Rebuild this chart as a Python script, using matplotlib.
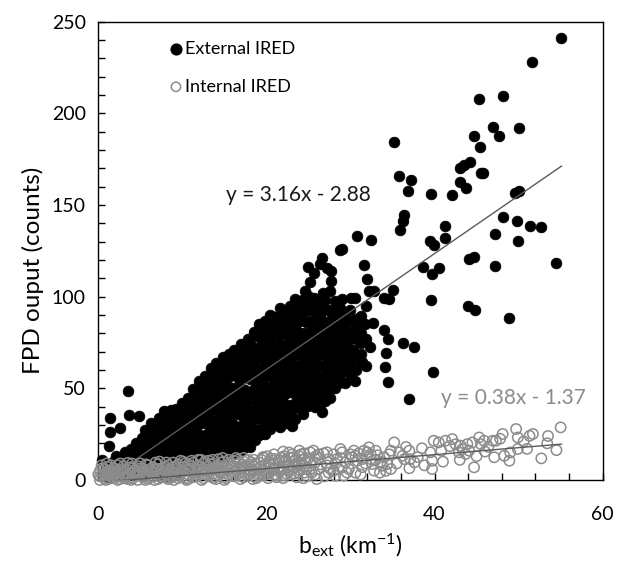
import matplotlib
matplotlib.use("Agg")
import matplotlib.pyplot as plt
import numpy as np
from matplotlib.ticker import MultipleLocator

plt.rcParams['font.family'] = ['Lato', 'DejaVu Sans']
plt.rcParams['mathtext.default'] = 'regular'

# ---------------- External IRED (black, filled) ----------------
ext_pts = [
    (0.4, 11), (0.6, 4), (0.9, 8), (1.1, 1.5), (1.3, 18.7), (1.4, 26.3), (1.4, 33.6), (1.6, 5),
    (1.8, 10), (2.1, 13), (2.3, 2), (2.6, 28.2), (2.5, 7), (2.9, 11), (3.2, 15), (3.1, 3),
    (3.5, 48.6), (3.6, 8), (3.7, 35.4), (3.9, 17), (4.2, 12), (4.3, 4), (4.5, 20), (4.9, 34.7),
    (4.8, 9), (5.0, 15), (5.2, 23), (5.3, 3), (5.6, 27), (5.7, 11), (5.9, 18), (6.1, 6),
    (6.3, 31), (6.4, 23), (6.5, 14), (6.8, 9), (6.9, 27), (7.0, 19), (7.2, 34), (7.3, 3),
    (7.5, 13), (7.7, 24), (7.8, 37.7), (7.9, 30), (8.1, 17), (8.3, 7), (8.5, 35), (8.6, 21),
    (8.8, 27), (8.9, 12), (9.2, 38.7), (9.3, 31), (9.4, 17), (9.6, 24), (9.7, 8), (10.0, 42),
    (10.1, 35), (10.2, 20), (10.3, 28), (10.5, 13), (10.7, 45), (10.8, 38), (10.9, 24), (11.0, 31),
    (11.1, 17), (11.3, 49.6), (11.4, 42), (11.5, 9), (11.6, 28), (11.7, 35), (11.8, 21), (12.0, 54),
    (12.1, 46), (12.1, 20.5), (12.3, 31), (12.4, 39), (12.5, 14), (12.7, 57), (12.8, 50), (12.9, 25),
    (13.0, 43), (13.1, 35), (13.2, 18), (13.4, 61), (13.5, 53), (13.6, 29), (13.7, 18.7), (13.7, 46),
    (13.9, 38), (14.0, 64), (14.1, 24), (14.2, 57), (14.3, 50), (14.5, 33), (14.6, 42), (14.7, 16),
    (14.8, 67), (14.9, 60), (15.0, 27), (15.1, 13.2), (15.1, 53), (15.2, 37), (15.3, 46), (15.5, 68.6),
    (15.6, 21), (15.7, 57), (15.8, 31), (15.9, 41), (16.0, 50), (16.1, 63), (16.2, 71), (16.3, 17),
    (16.4, 27), (16.5, 36), (16.6, 45), (16.7, 55), (16.8, 66), (17.0, 74), (17.1, 16.5), (17.1, 24),
    (17.2, 60), (17.3, 33), (17.4, 49), (17.5, 40), (17.6, 70), (17.8, 77), (17.9, 22), (18.0, 55),
    (18.0, 30), (18.1, 44), (18.2, 64), (18.3, 37), (18.5, 81), (18.6, 27), (18.6, 50), (18.7, 72),
    (18.8, 59), (18.9, 42), (19.1, 24.5), (19.1, 85), (19.2, 34), (19.3, 67), (19.4, 77), (19.5, 54),
    (19.6, 46), (19.8, 29), (19.8, 62), (19.9, 84), (20.0, 39), (20.1, 72), (20.2, 51), (20.4, 90),
    (20.5, 33), (20.6, 60), (20.7, 79), (20.8, 45), (20.9, 67), (21.1, 56), (21.2, 86), (21.3, 37),
    (21.4, 34), (21.5, 74), (21.6, 50), (21.7, 63), (21.8, 91), (22.0, 42), (22.1, 82), (22.2, 88.6),
    (22.3, 31), (22.3, 57), (22.4, 70), (22.6, 48), (22.7, 77), (22.8, 93), (23.0, 29.6), (23.0, 38),
    (23.1, 64), (23.2, 86), (23.3, 54), (23.4, 72), (23.5, 96.8), (23.6, 44), (23.7, 81), (23.8, 60),
    (24.0, 90), (24.1, 50), (24.2, 68), (24.3, 36), (24.4, 77), (24.5, 99), (24.6, 56), (24.7, 86),
    (24.9, 116.4), (24.9, 40.5), (24.9, 100.4), (25.0, 64), (25.1, 47), (25.2, 73), (25.3, 93), (25.4, 82),
    (25.5, 57), (25.7, 99.5), (25.7, 113), (25.8, 44), (25.9, 69), (26.0, 89), (26.1, 78), (26.2, 52),
    (26.4, 62), (26.6, 37.2), (26.6, 121.3), (26.7, 101.9), (26.7, 84), (26.8, 47), (26.9, 72), (27.0, 93),
    (27.1, 58), (27.2, 115.8), (27.3, 80), (27.5, 66), (27.6, 50), (27.7, 108.6), (27.7, 114), (27.8, 88.6),
    (27.9, 74), (28.0, 58.7), (28.2, 97.7), (28.3, 83), (28.4, 65), (28.5, 53), (28.8, 125.4), (28.8, 76.8),
    (28.9, 53.2), (29.0, 98.6), (29.1, 70), (29.2, 84.0), (29.4, 62), (29.5, 61.4), (29.6, 74), (29.8, 77),
    (29.9, 67), (30.1, 99.1), (30.2, 87), (30.3, 71), (30.5, 54.1), (30.6, 83.2), (30.6, 66), (30.8, 133.1),
    (31.0, 88.6), (31.2, 89.5), (31.4, 64.1), (31.6, 117.1), (31.7, 85), (32.0, 109.5), (32.2, 103.1),
    (32.3, 72.3), (32.4, 130.9), (32.7, 85.5), (32.8, 103.1), (29.0, 125.8), (30.5, 99.5),
    (35.0, 103.7), (34.0, 99.5), (34.6, 98.6), (39.6, 98.2), (44.0, 94.9), (44.8, 92.6), (48.9, 88.2),
    (34.0, 81.7), (34.5, 76.8), (36.3, 75.0), (37.6, 72.3), (34.2, 69.2), (34.1, 61.7), (39.8, 59.0),
    (34.5, 53.6), (37.0, 44.1), (38.6, 116.4), (39.7, 112.2), (40.5, 115.5), (44.1, 120.7), (44.7, 121.8),
    (47.2, 116.7), (54.5, 118.2), (55.1, 241.1), (51.6, 227.8), (45.3, 208.0), (48.2, 209.3), (35.2, 184.3),
    (46.9, 192.4), (47.7, 187.5), (50.0, 192.1), (44.7, 187.5), (45.4, 181.7), (44.2, 173.6), (43.5, 172.1),
    (43.0, 170.1), (45.5, 167.6), (45.8, 167.2), (35.8, 166.1), (37.2, 163.9), (36.8, 157.9), (43.0, 162.5),
    (43.7, 159.4), (39.6, 156.2), (42.1, 155.2), (49.6, 156.7), (50.1, 157.9), (36.4, 144.3), (36.2, 141.2),
    (35.9, 136.3), (48.2, 143.6), (49.8, 141.1), (51.4, 138.5), (52.7, 138.2), (41.2, 138.5), (41.2, 131.8),
    (39.4, 130.3), (39.9, 128.2), (47.2, 134.0), (49.9, 130.3),
]

# second layer of the dense External cloud, read column by column (x, [y...])
ext_fill = [
    (5.4, [6, 13, 20]), (6.0, [10, 16, 25]), (6.7, [5, 12, 17, 21, 29]),
    (7.4, [6, 10, 16, 22, 27, 31]), (8.0, [2, 9, 14, 20, 25, 33]),
    (8.7, [4, 10, 15, 18, 24, 30, 32, 38]), (9.4, [3, 11, 14, 21, 27, 35]),
    (10.0, [5, 10, 16, 23, 32, 38]), (10.6, [7, 11, 19, 26, 34, 41]),
    (11.2, [6, 13, 20, 26, 38, 45]), (11.9, [10, 17, 25, 33, 40, 49]),
    (12.5, [11, 19, 24, 36, 44, 52]), (13.2, [12, 22, 30, 40, 48, 56]),
    (13.8, [14, 21, 32, 42, 51, 58]), (14.4, [13, 20, 28, 38, 45, 54, 62]),
    (15.0, [17, 23, 31, 41, 49, 57, 65]), (15.6, [18, 25, 35, 43, 51, 61, 66]),
    (16.2, [14, 22, 30, 40, 47, 58, 68]), (16.8, [19, 29, 39, 51, 59, 63, 71]),
    (17.4, [20, 28, 37, 44, 56, 64, 73]), (18.0, [18, 25, 34, 48, 60, 68, 75]),
    (18.6, [22, 33, 39, 46, 55, 63, 69, 79]), (19.2, [28, 37, 41, 49, 60, 71, 81]),
    (19.8, [25, 33, 44, 50, 57, 68, 75, 80, 87]), (20.4, [28, 37, 42, 48, 57, 64, 70, 76, 84]),
    (21.0, [31, 40, 48, 53, 63, 71, 82, 89]), (21.6, [29, 38, 44, 55, 60, 68, 79, 85, 94]),
    (22.2, [35, 41, 47, 53, 60, 66, 73, 85, 91]), (22.8, [33, 41, 51, 58, 63, 69, 75, 82, 89, 95]),
    (23.4, [33, 40, 47, 51, 58, 68, 77, 83, 91, 99]), (24.0, [39, 46, 54, 63, 74, 80, 87, 95]),
    (24.6, [42, 48, 53, 60, 66, 71, 80, 92, 103]), (25.2, [43, 51, 60, 67, 77, 87, 97, 108]),
    (25.8, [40, 49, 55, 61, 66, 73, 85, 94]), (26.4, [41, 47, 56, 68, 75, 80, 89, 97, 118]),
    (27.0, [43, 52, 63, 69, 77, 86, 98]), (27.6, [45, 55, 60, 69, 77, 83, 93, 103]),
    (28.2, [50, 56, 62, 70, 78, 88, 92]), (28.8, [58, 66, 73, 80, 89, 94]),
    (29.4, [53, 67, 79, 87, 91]), (30.0, [58, 63, 71, 81, 93]), (30.6, [60, 77, 88]),
    (31.2, [69, 75, 80]), (31.8, [62, 77, 95]),
]

# ---------------- Internal IRED (grey, open) ----------------
int_pts = [
    (0.2, 0), (0.2, 2), (0.2, 5), (0.4, 8), (0.7, 1), (0.7, 3.5), (0.7, 6), (1.0, 9), (1.2, 0.5),
    (1.2, 2.5), (1.2, 5), (1.2, 7), (1.5, 3), (1.8, 1), (1.8, 4), (1.8, 6.5), (2.0, 6), (2.3, 0),
    (2.3, 2), (2.3, 5), (2.3, 8), (2.6, 9), (2.9, 1.5), (2.9, 3.5), (2.9, 6), (3.2, 1), (3.5, 0.5),
    (3.5, 3), (3.5, 5.5), (3.5, 9.3), (3.8, 7), (4.1, 1), (4.1, 4), (4.1, 6.5), (4.4, 3), (4.7, 0),
    (4.7, 2.5), (4.7, 5), (4.7, 7.5), (5.0, 9), (5.3, 1.5), (5.3, 4), (5.3, 6), (5.6, 2), (5.9, 0.5),
    (5.9, 3), (5.9, 5.5), (5.9, 8), (6.2, 6), (6.5, 2), (6.5, 4.5), (6.5, 7), (6.8, 9.5), (7.1, 0.5),
    (7.1, 3), (7.1, 6), (7.1, 8.5), (7.4, 1.5), (7.7, 1.5), (7.7, 4), (7.7, 6.5), (8.0, 7), (8.3, 0.5),
    (8.3, 3), (8.3, 5.5), (8.3, 8), (8.6, 2), (8.9, 2), (8.9, 4.5), (8.9, 7), (8.9, 9.5), (9.2, 6),
    (9.5, 1), (9.5, 3.5), (9.5, 6), (9.5, 8.5), (9.8, 10.5), (10.1, 2), (10.1, 4.5), (10.1, 7),
    (10.1, 10), (10.4, 1), (10.7, 0.5), (10.7, 3), (10.7, 5.5), (10.7, 8.5), (11.0, 7.5), (11.3, 1.5),
    (11.3, 4), (11.3, 6.5), (11.3, 9.5), (11.6, 3), (11.9, 2.5), (11.9, 5), (11.9, 8), (11.9, 11),
    (12.2, 11), (12.5, 1), (12.5, 3.5), (12.5, 6), (12.5, 9), (12.8, 5), (13.1, 2), (13.1, 5),
    (13.1, 7.5), (13.1, 10.5), (13.4, 8.5), (13.7, 1), (13.7, 3.5), (13.7, 6.5), (13.7, 9), (14.0, 0.5),
    (14.3, 2.5), (14.3, 5), (14.3, 8), (14.3, 11.4), (14.6, 9.5), (14.9, 1.5), (14.9, 4), (14.9, 7),
    (14.9, 10), (15.2, 1), (15.5, 3), (15.5, 5.5), (15.5, 8.5), (15.5, 11), (15.8, 7), (16.1, 2),
    (16.1, 4.5), (16.1, 7.5), (16.1, 10.5), (16.4, 12), (16.7, 3.5), (16.7, 6), (16.7, 9), (17.0, 2),
    (17.3, 1.5), (17.3, 4.5), (17.3, 7), (17.3, 10), (17.3, 12), (17.6, 6), (17.9, 3), (17.9, 5.5),
    (17.9, 8.5), (18.2, 9.5), (18.5, 2), (18.5, 5), (18.5, 7.5), (18.5, 11), (18.8, 1), (19.1, 3.5),
    (19.1, 6), (19.1, 9.5), (19.4, 11), (19.7, 2.5), (19.7, 5), (19.7, 8), (19.7, 12), (20.0, 3),
    (20.1, 13), (20.3, 4), (20.3, 6.5), (20.3, 10), (20.6, 8), (20.9, 3), (20.9, 5.5), (20.9, 9),
    (20.9, 14), (21.0, 11.5), (21.2, 1.5), (21.5, 4.5), (21.5, 7), (21.5, 11), (21.8, 12), (22.0, 15.5),
    (22.1, 2.5), (22.1, 6), (22.1, 9.5), (22.1, 13), (22.4, 3.5), (22.7, 5), (22.7, 8), (22.7, 12),
    (22.7, 15), (23.0, 6), (23.1, 14), (23.3, 3.5), (23.3, 7), (23.3, 10.5), (23.6, 1.5), (23.9, 5.5),
    (23.9, 9), (23.9, 13), (23.9, 16), (24.2, 9), (24.5, 4), (24.5, 7.5), (24.5, 11.5), (24.5, 14.5),
    (24.8, 2), (25.2, 15.1), (25.2, 6), (25.2, 9.6), (25.6, 16), (25.8, 9.6), (25.8, 3), (26.0, 0.5),
    (26.2, 6), (26.2, 12), (26.2, 14), (26.8, 14.5), (27.2, 15.1), (27.2, 8), (27.4, 11.4), (27.4, 4),
    (28.0, 5.1), (28.0, 14), (28.2, 2.3), (28.2, 9), (28.6, 6), (28.8, 16.9), (28.8, 12), (29.0, 15.1),
    (29.0, 6.9), (29.2, 2.3), (29.4, 9.6), (29.8, 6.0), (30.2, 12.4), (30.4, 16), (30.6, 13.2),
    (30.6, 4), (30.8, 10.5), (31.0, 14.5), (31.4, 11.4), (31.4, 7), (31.6, 16.0), (32.0, 15.1),
    (32.2, 17.8), (32.4, 11.4), (32.6, 8.7), (32.8, 5.1), (33.0, 11), (33.0, 16), (33.2, 13.5),
    (33.5, 4), (33.8, 7.8), (34.0, 12.4), (34.4, 8.7), (34.6, 14), (34.8, 6.0), (34.8, 16.0),
    (35.2, 20.5), (35.5, 9), (35.8, 15.1), (36.2, 13.2), (36.4, 11.4), (36.6, 18), (37.0, 16.0),
    (37.0, 6.4), (37.1, 11.4), (37.6, 9.6), (38.0, 12.5), (38.5, 17.3), (38.8, 8), (39.5, 15.1),
    (39.7, 10.5), (39.7, 6.0), (39.9, 21.4), (40.5, 20.5), (40.8, 16), (41.0, 10), (41.3, 21.4),
    (41.8, 18.5), (42.1, 22.3), (42.5, 19.5), (42.9, 15.1), (43.0, 11), (43.1, 18.7), (43.3, 16.9),
    (43.7, 14.2), (43.9, 19.6), (44.1, 16.0), (44.5, 20.5), (44.7, 6.9), (45.0, 13), (45.3, 23.2),
    (45.5, 19.6), (45.9, 21.4), (46.0, 15.5), (46.4, 18), (46.9, 21.4), (47.1, 12.4), (47.3, 21.4),
    (47.8, 22.5), (48.1, 25.1), (48.3, 13.2), (48.9, 10.5), (49.0, 15), (49.7, 27.8), (49.9, 23.2),
    (49.9, 16.9), (50.6, 21), (51.0, 17), (51.3, 24.1), (51.7, 25.1), (52.7, 11.8), (53.4, 20),
    (53.5, 24), (54.5, 16.3), (55.0, 28.7),
    # second layer of the dense Internal band
    (0.0, 3), (0.5, 6.5), (0.9, 0), (1.0, 4.5), (1.5, 8), (1.6, 1.5), (2.0, 3.5), (2.6, 0.5),
    (2.7, 5), (3.0, 7.5), (3.3, 2), (3.9, 0), (4.0, 9), (4.4, 5), (4.9, 3.5), (5.1, 6.5), (5.6, 0),
    (5.7, 8.5), (6.0, 1.5), (6.3, 4.5), (6.7, 0), (6.9, 6), (7.3, 10), (7.5, 2.5), (7.9, 5),
    (8.1, 9.5), (8.5, 1), (8.7, 4), (9.0, 0), (9.3, 7.5), (9.7, 2.5), (9.9, 5), (10.3, 9), (10.5, 0),
    (10.9, 6), (11.1, 10.5), (11.5, 2), (11.8, 4.5), (12.0, 7), (12.3, 0), (12.7, 10), (12.9, 3),
    (13.3, 6), (13.6, 11), (13.9, 2), (14.1, 7), (14.5, 4), (14.8, 12), (15.0, 0), (15.3, 6.5),
    (15.7, 9.5), (16.0, 2.5), (16.3, 5.5), (16.6, 11), (16.9, 0.5), (17.1, 8.5), (17.5, 3), (17.8, 11),
    (18.1, 5), (18.4, 0.5), (18.7, 9), (19.0, 2.5), (19.3, 7), (19.6, 12.5), (19.9, 4), (20.2, 1),
    (20.5, 11.5), (20.8, 6.5), (21.1, 2.5), (21.4, 9), (21.7, 5), (22.0, 1), (22.3, 11), (22.6, 7),
    (22.9, 3), (23.2, 12.5), (23.5, 8.5), (23.8, 4), (24.1, 14), (24.4, 1), (24.7, 6), (25.0, 12),
    (25.4, 4), (25.9, 13), (26.5, 8.5), (26.9, 2), (27.6, 6), (28.4, 11.5), (29.6, 4), (30.0, 14),
    (31.2, 3), (31.8, 9), (32.4, 14), (33.6, 10), (34.2, 5),
]

ext_x = [p[0] for p in ext_pts] + [c[0] for c in ext_fill for _ in c[1]]
ext_y = [p[1] for p in ext_pts] + [v for c in ext_fill for v in c[1]]
int_x = [p[0] for p in int_pts]
int_y = [p[1] for p in int_pts]

ext_fit = (3.16, -2.88)
int_fit = (0.38, -1.37)
fit_range = [0, 55.1]
x_ticks = [0, 20, 40, 60]
y_ticks = [0, 50, 100, 150, 200, 250]

fig = plt.figure(figsize=(6.17, 5.61), dpi=100)
ax = fig.add_axes([0.1593, 0.1444, 0.9768 - 0.1593, 0.9613 - 0.1444])

ax.scatter(ext_x, ext_y, s=60, c='black', edgecolors='black', linewidths=0.5,
           zorder=2, clip_on=False)
xl = np.array(fit_range)
ax.plot(xl, ext_fit[0] * xl + ext_fit[1], color='#5a5a5a', lw=1.0, zorder=3)
ax.scatter(int_x, int_y, s=55, facecolors='none', edgecolors='#8c8c8c', linewidths=1.1,
           zorder=4, clip_on=False)
ax.plot(xl, int_fit[0] * xl + int_fit[1], color='#5a5a5a', lw=1.0, zorder=5)

ax.set_xlim(0, 60)
ax.set_ylim(0, 250)
ax.set_xticks(x_ticks)
ax.set_yticks(y_ticks)
ax.xaxis.set_minor_locator(MultipleLocator(4))
ax.yaxis.set_minor_locator(MultipleLocator(10))
ax.tick_params(which='both', direction='in', length=5, width=1, labelsize=14,
               colors='black', top=False, right=False)
ax.tick_params(axis='x', pad=19)
ax.tick_params(axis='y', pad=9)
for sp in ax.spines.values():
    sp.set_linewidth(1.0)

ax.set_xlabel('b$_{ext}$ (km$^{-1}$)', fontsize=16.5, labelpad=6)
ax.set_ylabel('FPD ouput (counts)', fontsize=17.5, va='center')
ax.yaxis.set_label_coords(-0.129, 0.458)

ax.text(0.396, 0.622, 'y = 3.16x - 2.88', transform=ax.transAxes, fontsize=15,
        ha='center', va='center', color='#1a1a1a')
ax.text(0.824, 0.179, 'y = 0.38x - 1.37', transform=ax.transAxes, fontsize=15,
        ha='center', va='center', color='#8c8c8c')

# legend
ax.scatter([0.154], [0.94], s=60, c='black', transform=ax.transAxes, clip_on=False)
ax.scatter([0.154], [0.858], s=45, facecolors='none', edgecolors='#8c8c8c',
           linewidths=1.1, transform=ax.transAxes, clip_on=False)
ax.text(0.171, 0.94, 'External IRED', transform=ax.transAxes, fontsize=13,
        ha='left', va='center')
ax.text(0.171, 0.858, 'Internal IRED', transform=ax.transAxes, fontsize=13,
        ha='left', va='center')

fig.savefig('out.png', dpi=100)
